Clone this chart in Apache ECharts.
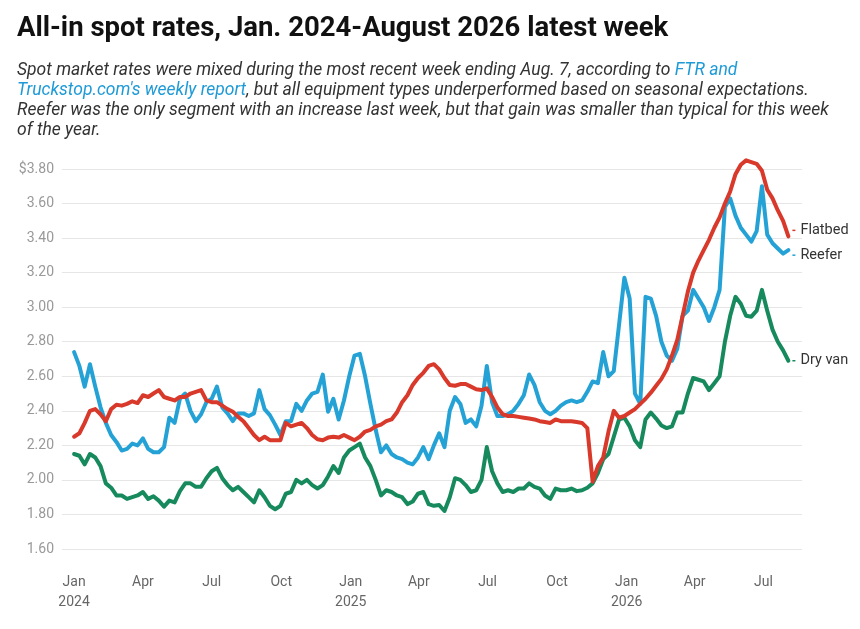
<!DOCTYPE html>
<html>
<head>
<meta charset="utf-8">
<script src="https://cdn.jsdelivr.net/npm/echarts@6.0.0/dist/echarts.min.js"></script>
<style>
    html, body { margin: 0; padding: 0; background: #fff; }
    #main { width: 860px; height: 629px; }
</style>
</head>
<body>
<div id="main"></div>
<script>
// weekly all-in spot rates, $ per mile, first week of Jan 2024 to week ending Aug. 7 2026
var flatbed = [
    2.25, 2.27, 2.33, 2.40, 2.41, 2.38, 2.34, 2.41, 2.435, 2.43,
    2.44, 2.455, 2.445, 2.49, 2.48, 2.50, 2.52, 2.48, 2.47, 2.46,
    2.48, 2.48, 2.50, 2.51, 2.52, 2.46, 2.45, 2.45, 2.43, 2.41,
    2.395, 2.365, 2.34, 2.30, 2.26, 2.23, 2.25, 2.23, 2.23, 2.23,
    2.33, 2.31, 2.32, 2.33, 2.30, 2.26, 2.235, 2.23, 2.245, 2.25,
    2.245, 2.26, 2.245, 2.23, 2.25, 2.28, 2.29, 2.31, 2.32, 2.34,
    2.35, 2.39, 2.45, 2.49, 2.55, 2.59, 2.62, 2.66, 2.67, 2.64,
    2.59, 2.55, 2.545, 2.555, 2.555, 2.54, 2.525, 2.52, 2.53, 2.48,
    2.42, 2.38, 2.37, 2.37, 2.365, 2.36, 2.355, 2.35, 2.34, 2.335,
    2.33, 2.35, 2.34, 2.34, 2.34, 2.335, 2.33, 2.30, 1.99, 2.08,
    2.13, 2.28, 2.40, 2.36, 2.37, 2.39, 2.41, 2.44, 2.47, 2.505,
    2.545, 2.585, 2.64, 2.72, 2.81, 2.95, 3.09, 3.20, 3.27, 3.33,
    3.39, 3.46, 3.52, 3.60, 3.67, 3.77, 3.825, 3.85, 3.84, 3.83,
    3.79, 3.68, 3.63, 3.56, 3.50, 3.41
];
var reefer = [
    2.74, 2.66, 2.54, 2.67, 2.54, 2.42, 2.33, 2.26, 2.22, 2.17,
    2.18, 2.21, 2.20, 2.24, 2.18, 2.16, 2.16, 2.19, 2.36, 2.33,
    2.47, 2.50, 2.40, 2.34, 2.38, 2.45, 2.47, 2.54, 2.42, 2.385,
    2.34, 2.385, 2.385, 2.37, 2.385, 2.52, 2.41, 2.375, 2.32, 2.26,
    2.34, 2.34, 2.44, 2.40, 2.46, 2.50, 2.51, 2.61, 2.395, 2.47,
    2.35, 2.46, 2.60, 2.72, 2.73, 2.60, 2.44, 2.29, 2.16, 2.20,
    2.15, 2.13, 2.12, 2.10, 2.09, 2.13, 2.19, 2.12, 2.20, 2.27,
    2.19, 2.40, 2.48, 2.44, 2.33, 2.35, 2.31, 2.43, 2.66, 2.45,
    2.37, 2.37, 2.38, 2.40, 2.44, 2.49, 2.61, 2.55, 2.45, 2.40,
    2.38, 2.40, 2.43, 2.45, 2.46, 2.45, 2.46, 2.51, 2.57, 2.56,
    2.74, 2.60, 2.63, 2.90, 3.17, 3.05, 2.50, 2.44, 3.06, 3.05,
    2.95, 2.80, 2.72, 2.69, 2.76, 2.95, 2.98, 3.10, 3.05, 3.00,
    2.92, 3.00, 3.10, 3.58, 3.63, 3.53, 3.46, 3.42, 3.38, 3.44,
    3.70, 3.42, 3.37, 3.34, 3.31, 3.33
];
var dryVan = [
    2.15, 2.14, 2.09, 2.15, 2.13, 2.08, 1.98, 1.955, 1.91, 1.91,
    1.89, 1.90, 1.91, 1.93, 1.89, 1.905, 1.88, 1.845, 1.88, 1.87,
    1.935, 1.98, 1.98, 1.96, 1.96, 2.01, 2.05, 2.07, 2.01, 1.97,
    1.94, 1.96, 1.93, 1.90, 1.87, 1.94, 1.90, 1.85, 1.83, 1.85,
    1.92, 1.93, 2.00, 1.98, 2.00, 1.97, 1.95, 1.97, 2.02, 2.08,
    2.04, 2.13, 2.17, 2.19, 2.21, 2.13, 2.08, 2.00, 1.91, 1.94,
    1.93, 1.91, 1.90, 1.86, 1.875, 1.92, 1.93, 1.86, 1.85, 1.855,
    1.82, 1.90, 2.01, 2.00, 1.97, 1.93, 1.94, 2.00, 2.19, 2.05,
    1.98, 1.93, 1.94, 1.93, 1.95, 1.95, 1.98, 1.96, 1.95, 1.91,
    1.89, 1.95, 1.94, 1.94, 1.95, 1.935, 1.94, 1.955, 1.98, 2.04,
    2.12, 2.15, 2.25, 2.35, 2.36, 2.31, 2.23, 2.19, 2.35, 2.39,
    2.355, 2.315, 2.30, 2.31, 2.39, 2.39, 2.50, 2.59, 2.58, 2.57,
    2.52, 2.56, 2.60, 2.80, 2.95, 3.06, 3.02, 2.95, 2.945, 2.98,
    3.10, 2.98, 2.87, 2.80, 2.75, 2.69
];

// x axis labels, one per quarter ([year, month index])
var tickDates = [
    [2024, 0], [2024, 3], [2024, 6], [2024, 9],
    [2025, 0], [2025, 3], [2025, 6], [2025, 9],
    [2026, 0], [2026, 3], [2026, 6]
];
var tickLabels = ['Jan\n2024', 'Apr', 'Jul', 'Oct', 'Jan\n2025', 'Apr', 'Jul', 'Oct', 'Jan\n2026', 'Apr', 'Jul'];

var seriesNames = ['Flatbed', 'Reefer', 'Dry van'];
var seriesColors = ['#d8392a', '#25a2d5', '#168a5d'];

var subtitle = 'Spot market rates were mixed during the most recent week ending Aug. 7, according to {link|FTR and}\n' +
    '{link|Truckstop.com\'s weekly report}, but all equipment types underperformed based on seasonal expectations.\n' +
    'Reefer was the only segment with an increase last week, but that gain was smaller than typical for this week\n' +
    'of the year.';

// x is measured in days from Jan 1 2024; one point per week
var DAY = 86400000;
var origin = Date.UTC(2024, 0, 1);
function dayOf(y, m, d) {
    return Math.round((Date.UTC(y, m, d) - origin) / DAY);
}
var weeks = [];
for (var i = 0; i < flatbed.length; i++) {
    weeks.push(7 * i);
}
var tickValues = tickDates.map(function (d) { return dayOf(d[0], d[1], 1); });

function pairs(values) {
    return values.map(function (v, i) { return [weeks[i], v]; });
}

var myChart = echarts.init(document.getElementById('main'), null, {renderer: 'canvas'});

function makeLine(idx, values, labelOffset) {
    var c = seriesColors[idx];
    return {
        name: seriesNames[idx],
        type: 'line',
        data: pairs(values),
        clip: false,
        showSymbol: false,
        symbol: 'none',
        lineStyle: {color: c, width: 4, join: 'round', cap: 'round'},
        itemStyle: {color: c},
        emphasis: {disabled: true},
        endLabel: {
            show: true,
            distance: 4,
            offset: labelOffset,
            formatter: '{d|}{n|' + seriesNames[idx] + '}',
            rich: {
                d: {width: 3, height: 1.5, backgroundColor: c},
                n: {color: '#333', fontSize: 14.5, fontFamily: 'Roboto', padding: [0, 0, 0, 5]}
            }
        }
    };
}

var option = {
    backgroundColor: '#fff',
    animation: false,
    title: [
        {
            text: 'All-in spot rates, Jan. 2024-August 2026 latest week',
            left: 12,
            top: 10,
            textStyle: {fontFamily: 'Roboto', fontSize: 27.5, fontWeight: 'bold', color: '#111'}
        },
        {
            text: subtitle,
            left: 12,
            top: 56,
            textStyle: {
                fontFamily: 'Roboto', fontSize: 17.5, fontStyle: 'italic', fontWeight: 'normal',
                color: '#333', lineHeight: 20,
                rich: {
                    link: {fontFamily: 'Roboto', fontSize: 17.5, fontStyle: 'italic', color: '#1e9ad6', lineHeight: 20}
                }
            }
        }
    ],
    grid: {left: 62, right: 58, top: 169, bottom: 80, containLabel: false},
    xAxis: {
        type: 'value',
        min: dayOf(2023, 11, 16),
        max: dayOf(2026, 7, 21),
        axisLine: {show: false},
        axisTick: {show: false},
        splitLine: {show: false},
        axisLabel: {
            customValues: tickValues,
            color: '#666',
            fontSize: 14,
            fontFamily: 'Roboto',
            lineHeight: 20,
            margin: 23,
            showMinLabel: true,
            showMaxLabel: true,
            formatter: function (v) {
                var k = tickValues.indexOf(v);
                return k >= 0 ? tickLabels[k] : '';
            }
        }
    },
    yAxis: {
        type: 'value',
        min: 1.6,
        max: 3.8,
        interval: 0.2,
        axisLine: {show: false},
        axisTick: {show: false},
        splitLine: {lineStyle: {color: '#e6e6e6', width: 1}},
        axisLabel: {
            color: '#999',
            fontSize: 14,
            fontFamily: 'Roboto',
            margin: 8,
            formatter: function (v) {
                return Math.abs(v - 3.8) < 1e-6 ? '$3.80' : v.toFixed(2);
            }
        }
    },
    series: [
        makeLine(2, dryVan, [0, 0]),
        makeLine(1, reefer, [0, 5]),
        makeLine(0, flatbed, [0, -6])
    ]
};

myChart.setOption(option);
</script>
</body>
</html>
